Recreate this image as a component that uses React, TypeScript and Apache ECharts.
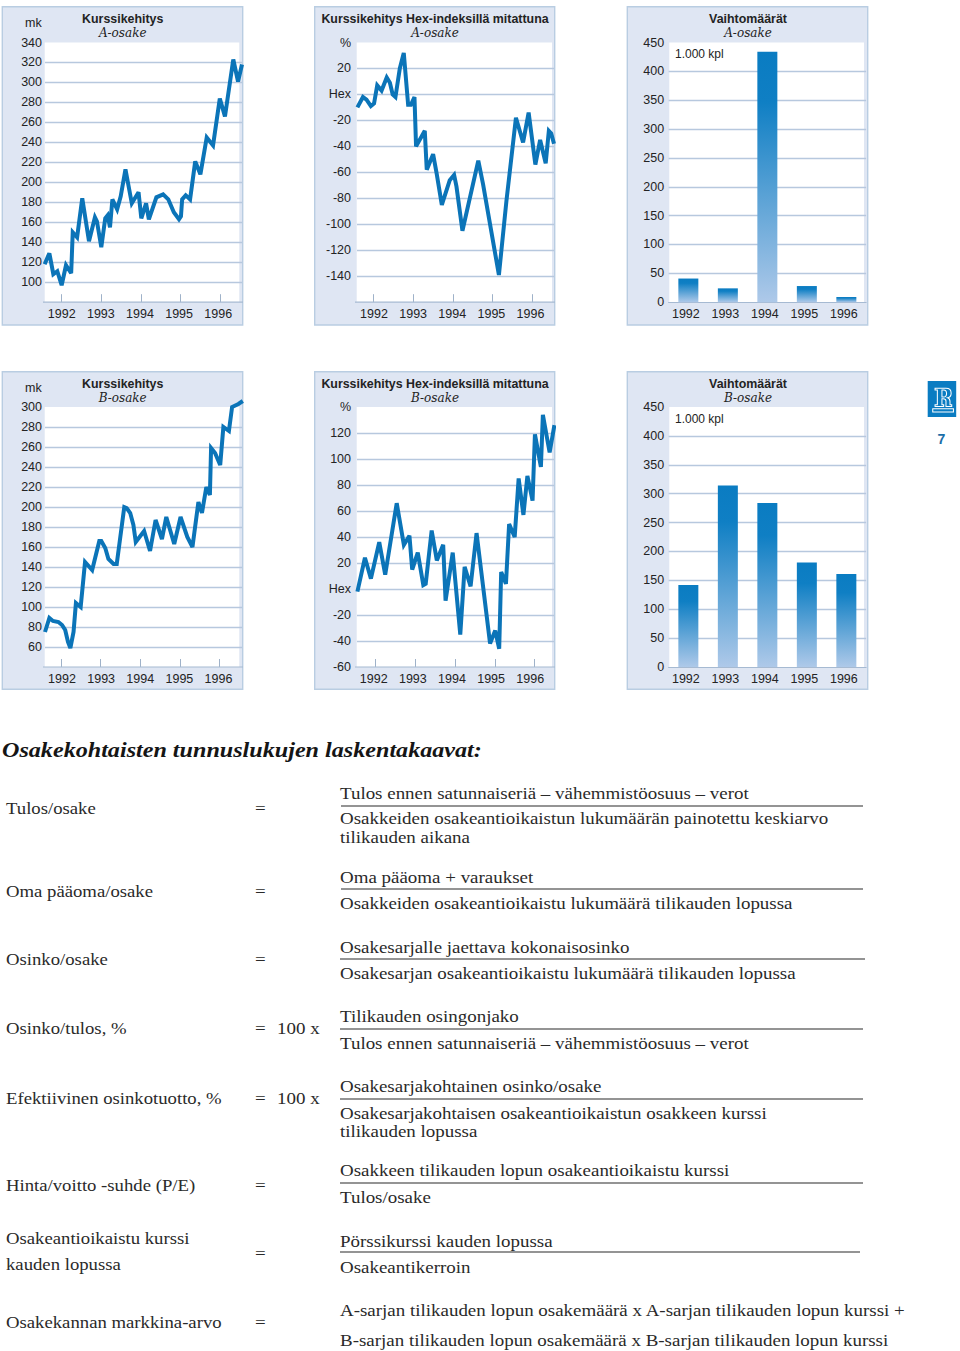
import React, { useEffect, useRef } from "react";
import * as echarts from "echarts";

const years = ["1992", "1993", "1994", "1995", "1996"];
const yearTicks = [1992, 1993, 1994, 1995, 1996];

const aPriceX = [1991.57,1991.69,1991.79,1991.89,1992.0,1992.11,1992.24,1992.28,1992.39,1992.52,1992.69,1992.84,1992.89,1993.0,1993.1,1993.16,1993.22,1993.28,1993.4,1993.49,1993.61,1993.77,1993.94,1994.01,1994.13,1994.2,1994.39,1994.56,1994.69,1994.83,1994.96,1995.01,1995.04,1995.13,1995.24,1995.37,1995.5,1995.66,1995.82,1995.99,1996.12,1996.33,1996.45,1996.55];
const aPriceY = [118,129,108,111,97,117,109,150,145,184,141,165,161,135,164,167,155,183,173,186,213,179,190,164,179,163,185,188,183,170,163,166,183,187,183,221,208,245,237,284,266,323,301,318];

const aHexX = [1991.59,1991.73,1991.82,1991.93,1992.01,1992.09,1992.2,1992.33,1992.41,1992.48,1992.55,1992.66,1992.76,1992.87,1992.94,1993.03,1993.07,1993.29,1993.34,1993.5,1993.59,1993.72,1993.92,1994.03,1994.09,1994.24,1994.64,1994.76,1995.16,1995.35,1995.59,1995.77,1995.91,1996.08,1996.2,1996.34,1996.42,1996.48,1996.55];
const aHexY = [-10,-2,-4,-9,-7,7,3,13,9,0,-2,20,32,-8,-8,-2,-40,-28,-58,-46,-61,-85,-66,-62,-71,-105,-51,-69,-139,-82,-18,-37,-14,-54,-35,-53,-28,-30,-38];

const aVolume = [41, 24, 434, 28, 9];

const bPriceX = [1991.6,1991.71,1991.8,1991.94,1992.03,1992.11,1992.18,1992.24,1992.32,1992.38,1992.5,1992.61,1992.79,1992.97,1993.02,1993.12,1993.2,1993.33,1993.41,1993.6,1993.66,1993.75,1993.83,1993.89,1994.1,1994.25,1994.39,1994.55,1994.66,1994.86,1995.02,1995.19,1995.32,1995.47,1995.56,1995.67,1995.76,1995.79,1995.89,1996.02,1996.1,1996.24,1996.32,1996.48,1996.59];
const bPriceY = [75,89,86,85,82,77,65,59,75,104,100,145,137,166,166,159,148,143,143,200,199,194,182,165,176,156,187,168,190,163,190,170,160,205,194,220,212,259,254,242,280,276,300,303,306];

const bHexX = [1991.54,1991.73,1991.88,1992.09,1992.24,1992.53,1992.71,1992.85,1992.92,1993.06,1993.2,1993.26,1993.41,1993.54,1993.7,1993.76,1993.94,1994.13,1994.24,1994.39,1994.54,1994.88,1995.01,1995.11,1995.16,1995.28,1995.36,1995.5,1995.6,1995.72,1995.82,1995.95,1996.01,1996.16,1996.21,1996.38,1996.5];
const bHexY = [-2,24,8,36,11,66,34,41,15,28,3,4,45,22,34,-9,28,-35,17,2,43,-42,-32,-46,13,4,50,40,85,57,87,68,119,94,134,105,126];

const bVolume = [142, 314, 284, 181, 161];

const formulaLabels: [string, number][] = [
  ["Tulos/osake", 808],
  ["Oma pääoma/osake", 891],
  ["Osinko/osake", 959],
  ["Osinko/tulos, %", 1028],
  ["Efektiivinen osinkotuotto, %", 1098],
  ["Hinta/voitto -suhde (P/E)", 1185],
  ["Osakeantioikaistu kurssi", 1238],
  ["kauden lopussa", 1264],
  ["Osakekannan markkina-arvo", 1322],
];
const equalsRows: [string, number][] = [
  ["=", 808], ["=", 891], ["=", 959], ["=", 1028], ["=", 1098], ["=", 1185], ["=", 1253], ["=", 1322],
];
const hundredRows = [1028, 1098];
const formulaLines: [string, number][] = [
  ["Tulos ennen satunnaiseriä – vähemmistöosuus – verot", 793],
  ["Osakkeiden osakeantioikaistun lukumäärän painotettu keskiarvo", 818],
  ["tilikauden aikana", 837],
  ["Oma pääoma + varaukset", 877],
  ["Osakkeiden osakeantioikaistu lukumäärä tilikauden lopussa", 903],
  ["Osakesarjalle jaettava kokonaisosinko", 947],
  ["Osakesarjan osakeantioikaistu lukumäärä tilikauden lopussa", 973],
  ["Tilikauden osingonjako", 1016],
  ["Tulos ennen satunnaiseriä – vähemmistöosuus – verot", 1043],
  ["Osakesarjakohtainen osinko/osake", 1086],
  ["Osakesarjakohtaisen osakeantioikaistun osakkeen kurssi", 1113],
  ["tilikauden lopussa", 1131],
  ["Osakkeen tilikauden lopun osakeantioikaistu kurssi", 1170],
  ["Tulos/osake", 1197],
  ["Pörssikurssi kauden lopussa", 1241],
  ["Osakeantikerroin", 1267],
  ["A-sarjan tilikauden lopun osakemäärä x A-sarjan tilikauden lopun kurssi +", 1310],
  ["B-sarjan tilikauden lopun osakemäärä x B-sarjan tilikauden lopun kurssi", 1340],
];
const ruleLines: [number, number, number][] = [
  [341, 863, 806], [341, 863, 889], [340, 865, 959], [340, 863, 1029], [340, 863, 1099], [340, 863, 1183], [340, 860, 1252],
];

const LINE = "#0b74b8";
const GRID = "#b7c8de";
const PANEL = "#dfe6f3";
const BORDER = "#b9cde2";
const SANS = "'Liberation Sans', Arial, sans-serif";
const SERIF = "'Liberation Serif', serif";
const TXT = "#232323";

const R_LOGO =
  "M7 3H16.5Q21 3 21 7.5Q21 11 18 11.6Q20 12.3 20 15V18H21.5V19.5H16.5V14.5Q16.5 12.5 14 12.5H13V18H14.5V19.5H7V18H9V4.5H7Z" +
  "M13 4.5V11H14.5Q17 11 17 7.7Q17 4.5 14.5 4.5Z" +
  "M5 21.5H23V24.5H5Z";

function zip(xs: number[], ys: number[]) {
  return xs.map((x, i) => [x, ys[i]]);
}

export default function App() {
  const ref = useRef<HTMLDivElement>(null);
  useEffect(() => {
    document.body.style.margin = "0";
    echarts.graphic.registerShape("logoR", echarts.graphic.extendPath(R_LOGO as any, {}) as any);
    const chart = echarts.init(ref.current!, undefined, { renderer: "svg" });

    const rowY = [
      { top: 6.7, bottom: 325, gt: 42.5, gb: 302.2 },
      { top: 371.7, bottom: 689.3, gt: 407, gb: 667 },
    ];
    const cols = [
      { px0: 2.3, px1: 242.7, wx0: 44.7, wx1: 239.3, cx: 122.7 },
      { px0: 314.7, px1: 554.7, wx0: 356.7, wx1: 552, cx: 435 },
      { px0: 627.3, px1: 867.7, wx0: 669.3, wx1: 864, cx: 748 },
    ];

    const grids: any[] = [];
    const xAxes: any[] = [];
    const yAxes: any[] = [];
    const series: any[] = [];
    const graphics: any[] = [];

    const text = (t: string, x: number, y: number, o: any = {}) => ({
      type: "text",
      x,
      y,
      scaleX: o.scaleX ?? 1,
      z: 5,
      style: {
        text: t,
        fill: o.fill ?? TXT,
        fontFamily: o.family ?? SANS,
        fontSize: o.size ?? 12.5,
        fontWeight: o.weight ?? "normal",
        fontStyle: o.italic ? "italic" : "normal",
        textAlign: o.align ?? "left",
        textVerticalAlign: "middle",
        verticalAlign: "middle",
      },
    });

    const addPanel = (col: number, row: number, title: string, sub: string) => {
      const c = cols[col];
      const r = rowY[row];
      graphics.push({
        type: "rect", z: -10,
        shape: { x: c.px0, y: r.top, width: c.px1 - c.px0, height: r.bottom - r.top },
        style: { fill: PANEL, stroke: BORDER, lineWidth: 1.4 },
      });
      graphics.push({
        type: "rect", z: -9,
        shape: { x: c.wx0, y: r.gt, width: c.wx1 - c.wx0, height: r.gb - r.gt },
        style: { fill: "#ffffff" },
      });
      graphics.push(text(title, c.cx, r.top + 12.6, { weight: "bold", size: 12.4, align: "center" }));
      graphics.push(text(sub, c.cx, r.top + 26, { family: "'DejaVu Serif', serif", italic: true, size: 12, align: "center" }));
    };

    const addLine = (
      col: number, row: number, left: number, right: number,
      xMin: number, xMax: number, yMin: number, yMax: number,
      data: number[][], labelMargin: number, fmt: (v: number) => string, axisLeft: number, labelStart: number,
    ) => {
      const i = grids.length;
      const r = rowY[row];
      const labelValues = yearTicks.map((_, k) => xMin + ((labelStart + k * 39.13 - left) / (right - left)) * (xMax - xMin));
      grids.push({ left, top: r.gt, width: right - left, height: r.gb - r.gt, show: false });
      xAxes.push({
        type: "value", gridIndex: i, min: xMin, max: xMax, position: "bottom",
        splitLine: { show: false },
        axisLine: { show: false, onZero: false },
        axisTick: { show: true, inside: true, length: 8, customValues: yearTicks, lineStyle: { color: "#9fb2c9", width: 1 } },
        axisLabel: {
          show: true, customValues: labelValues, margin: 5.5, color: TXT, fontFamily: SANS, fontSize: 12.5,
          formatter: (v: number) => years[yearTicks.indexOf(Math.round(v))] ?? "",
        },
      });
      yAxes.push({
        type: "value", gridIndex: i, min: yMin, max: yMax, interval: 20,
        axisLine: { show: false }, axisTick: { show: false },
        splitLine: { show: true, showMaxLine: false, showMinLine: false, lineStyle: { color: GRID, width: 1.3 } },
        axisLabel: { margin: labelMargin, color: TXT, fontFamily: SANS, fontSize: 12.5, formatter: fmt, padding: [2, 0, 0, 0] },
      });
      series.push({
        type: "line", xAxisIndex: i, yAxisIndex: i, data, symbol: "none", clip: false, z: 4,
        lineStyle: { color: LINE, width: 4, join: "miter", miterLimit: 3 },
      });
      graphics.push({
        type: "line", z: 1,
        shape: { x1: axisLeft, y1: r.gb, x2: right + 1, y2: r.gb },
        style: { stroke: "#a6bad2", lineWidth: 1.2 },
      });
    };

    const addBars = (col: number, row: number, values: number[]) => {
      const i = grids.length;
      const r = rowY[row];
      const left = 668.6;
      grids.push({ left, top: r.gt, width: 197.5, height: r.gb - r.gt, show: false });
      xAxes.push({
        type: "category", gridIndex: i, data: years,
        axisTick: { show: false },
        axisLine: { show: true, lineStyle: { color: "#a6bad2", width: 1.2 } },
        axisLabel: { margin: 5.5, color: TXT, fontFamily: SANS, fontSize: 12.5, padding: [0, 5, 0, 0], interval: 0 },
      });
      yAxes.push({
        type: "value", gridIndex: i, min: 0, max: 450, interval: 50,
        axisLine: { show: false }, axisTick: { show: false },
        splitLine: { show: true, showMaxLine: false, showMinLine: false, lineStyle: { color: GRID, width: 1.3 } },
        axisLabel: { margin: 4.5, color: TXT, fontFamily: SANS, fontSize: 12.5, padding: [2, 0, 0, 0] },
      });
      series.push({
        type: "bar", xAxisIndex: i, yAxisIndex: i, data: values, barWidth: 20, z: 4,
        itemStyle: {
          color: new echarts.graphic.LinearGradient(0, 0, 0, 1, [
            { offset: 0, color: "#0a7cc2" },
            { offset: 0.2, color: "#0f7fc4" },
            { offset: 1, color: "#aec9e9" },
          ]),
        },
      });
      graphics.push(text("1.000 kpl", 675, r.gt + 11.6, { size: 12 }));
    };

    const labelHex40 = (v: number) => (v === 40 ? "%" : v === 0 ? "Hex" : v === -160 ? "" : String(v));
    const labelHex140 = (v: number) => (v === 140 ? "%" : v === 0 ? "Hex" : String(v));

    addPanel(0, 0, "Kurssikehitys", "A-osake");
    addLine(0, 0, 45, 242, 1991.58, 1996.55, 80, 340, zip(aPriceX, aPriceY), 3, (v) => (v === 80 ? "" : String(v)), 43, 61.7);
    graphics.push(text("mk", 41.7, 23, { align: "right" }));

    addPanel(1, 0, "Kurssikehitys Hex-indeksillä mitattuna", "A-osake");
    addLine(1, 0, 357, 554, 1991.58, 1996.55, -160, 40, zip(aHexX, aHexY), 6, labelHex40, 355, 374);

    addPanel(2, 0, "Vaihtomäärät", "A-osake");
    addBars(2, 0, aVolume);

    addPanel(0, 1, "Kurssikehitys", "B-osake");
    addLine(0, 1, 45, 242, 1991.6, 1996.57, 40, 300, zip(bPriceX, bPriceY), 3, (v) => (v === 40 ? "" : String(v)), 43, 62);
    graphics.push(text("mk", 41.7, 388, { align: "right" }));

    addPanel(1, 1, "Kurssikehitys Hex-indeksillä mitattuna", "B-osake");
    addLine(1, 1, 357, 554, 1991.53, 1996.49, -60, 140, zip(bHexX, bHexY), 6, labelHex140, 355, 373.7);

    addPanel(2, 1, "Vaihtomäärät", "B-osake");
    addBars(2, 1, bVolume);

    // Logo and page number
    graphics.push({ type: "rect", shape: { x: 927.7, y: 381, width: 28.5, height: 36 }, style: { fill: "#0a7cc2" } });
    graphics.push({
      type: "logoR", x: 927, y: 385, scaleX: 1.15, scaleY: 1.1, z: 2,
      style: { fill: "none", stroke: "#ffffff", lineWidth: 0.9 },
    });
    graphics.push(text("7", 941.5, 439, { weight: "bold", size: 14, align: "center", fill: "#1b6ea8" }));

    // Formula section
    const fs = { family: SERIF, size: 17.5, scaleX: 1.083, fill: "#2a2a2a" };
    const fsLeft = { ...fs, scaleX: 1.07 };
    graphics.push(text("Osakekohtaisten tunnuslukujen laskentakaavat:", 2, 749.5, {
      family: SERIF, size: 22, weight: "bold", italic: true, scaleX: 1.097, fill: "#151515",
    }));
    formulaLabels.forEach(([t, y]) => graphics.push(text(t, 6, y, fsLeft)));
    equalsRows.forEach(([t, y]) => graphics.push(text(t, 255, y, fs)));
    hundredRows.forEach((y) => graphics.push(text("100 x", 277, y, fs)));
    formulaLines.forEach(([t, y]) => graphics.push(text(t, 340, y, fs)));
    ruleLines.forEach(([x1, x2, y]) => graphics.push({
      type: "line", shape: { x1, y1: y, x2, y2: y }, style: { stroke: "#2a2a2a", lineWidth: 1.1 },
    }));

    chart.setOption({
      animation: false,
      backgroundColor: "#ffffff",
      grid: grids,
      xAxis: xAxes,
      yAxis: yAxes,
      series,
      graphic: { elements: graphics },
    });
    return () => chart.dispose();
  }, []);
  return <div ref={ref} style={{ position: "absolute", left: 0, top: 0, width: 960, height: 1351 }} />;
}
